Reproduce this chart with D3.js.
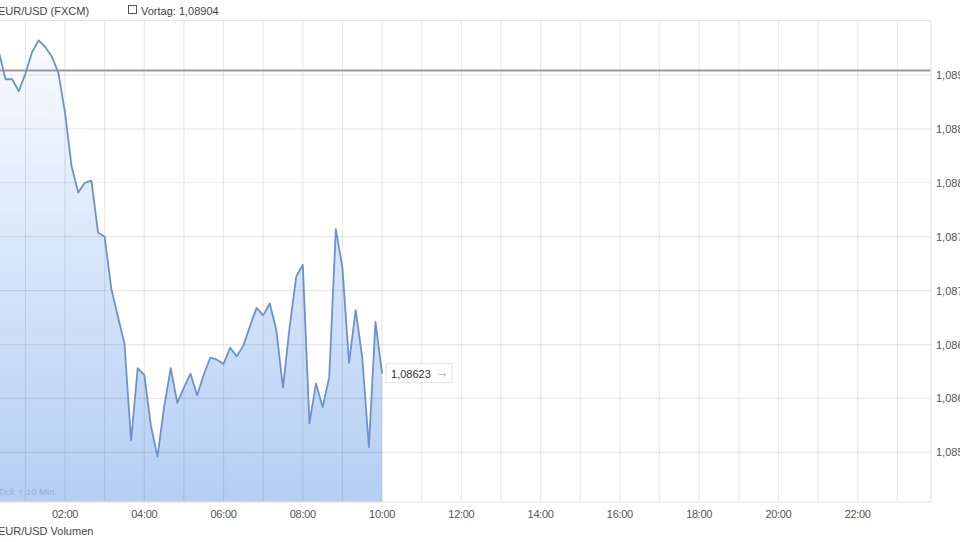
<!DOCTYPE html>
<html>
<head>
<meta charset="utf-8">
<script src="https://cdn.jsdelivr.net/npm/d3@7/dist/d3.min.js"></script>
<style>
  html, body { margin: 0; padding: 0; background: #fff; overflow: hidden; }
  svg { display: block; font-family: "Liberation Sans", Arial, sans-serif; }
</style>
</head>
<body>
<svg id="chart" width="960" height="542"></svg>
<script>
// ---- data ----
const seriesName = "EUR/USD (FXCM)";
const previousCloseLabel = "Vortag: 1,08904";
const previousClose = 1.08904;
const lastValue = 1.08623;
const volumeTitle = "EUR/USD Volumen";
const intervalNote = "Tick + 10 Min.";

const times = [
  "00:10","00:20","00:30","00:40","00:50","01:00","01:10","01:20","01:30","01:40",
  "01:50","02:00","02:10","02:20","02:30","02:40","02:50","03:00","03:10","03:20",
  "03:30","03:40","03:50","04:00","04:10","04:20","04:30","04:40","04:50","05:00",
  "05:10","05:20","05:30","05:40","05:50","06:00","06:10","06:20","06:30","06:40",
  "06:50","07:00","07:10","07:20","07:30","07:40","07:50","08:00","08:10","08:20",
  "08:30","08:40","08:50","09:00","09:10","09:20","09:30","09:40","09:50","10:00"
];
const prices = [
  1.08925,1.08921,1.08896,1.08896,1.08885,1.08901,1.08921,1.08932,1.08926,1.08917,
  1.08902,1.08865,1.08815,1.08791,1.08800,1.08802,1.08754,1.08750,1.08702,1.08676,
  1.08651,1.08561,1.08628,1.08622,1.08575,1.08546,1.08592,1.08628,1.08596,1.08610,
  1.08623,1.08603,1.08622,1.08638,1.08636,1.08632,1.08647,1.08639,1.08649,1.08667,
  1.08684,1.08677,1.08688,1.08663,1.08610,1.08666,1.08713,1.08724,1.08577,1.08614,
  1.08592,1.08620,1.08757,1.08721,1.08633,1.08682,1.08638,1.08555,1.08671,1.08623
];
const yTicks = [1.0855, 1.0860, 1.0865, 1.0870, 1.0875, 1.0880, 1.0885, 1.0890];
const xTickLabels = ["02:00","04:00","06:00","08:00","10:00","12:00","14:00","16:00","18:00","20:00","22:00"];
const xDomain = ["00:00", "23:51"];

// ---- helpers ----
const parseT = d3.timeParse("%H:%M");
const fmtDE = v => v.toFixed(4).replace(".", ",");
const fmtDE5 = v => v.toFixed(5).replace(".", ",");

const plotLeft = -14.25, plotRightEdge = 931, plotTop = 21, plotBottom = 502;
const x = d3.scaleTime()
  .domain(xDomain.map(parseT))
  .range([plotLeft, plotRightEdge]);
const y = d3.scaleLinear()
  .domain([1.08504, 1.0895])
  .range([plotBottom, plotTop]);

const data = times.map((t, i) => ({ t: parseT(t), v: prices[i] }));

const svg = d3.select("#chart");
const defs = svg.append("defs");
const grad = defs.append("linearGradient")
  .attr("id", "areaGrad")
  .attr("gradientUnits", "userSpaceOnUse")
  .attr("x1", 0).attr("y1", plotTop).attr("x2", 0).attr("y2", plotBottom);
grad.append("stop").attr("offset", "0%").attr("stop-color", "#fbfdff");
grad.append("stop").attr("offset", "100%").attr("stop-color", "#b4cef4");

defs.append("clipPath").attr("id", "plotClip")
  .append("rect").attr("x", 0).attr("y", plotTop).attr("width", plotRightEdge).attr("height", plotBottom - plotTop);

// area + line
const g = svg.append("g").attr("clip-path", "url(#plotClip)");
g.append("path").datum(data)
  .attr("fill", "url(#areaGrad)")
  .attr("d", d3.area().x(d => x(d.t)).y0(plotBottom).y1(d => y(d.v)));

// grid
const hours = d3.range(1, 24).map(h => parseT(String(h).padStart(2, "0") + ":00"));
g.selectAll("line.vg").data(hours).enter().append("line")
  .attr("x1", d => x(d)).attr("x2", d => x(d))
  .attr("y1", plotTop).attr("y2", plotBottom)
  .attr("stroke", "rgba(0,0,0,0.085)").attr("stroke-width", 1.2);
g.selectAll("line.hg").data(yTicks).enter().append("line")
  .attr("x1", 0).attr("x2", plotRightEdge)
  .attr("y1", d => y(d)).attr("y2", d => y(d))
  .attr("stroke", "rgba(0,0,0,0.085)").attr("stroke-width", 1.2);

// frame
svg.append("line").attr("x1", 0).attr("x2", plotRightEdge).attr("y1", plotTop - 0.5).attr("y2", plotTop - 0.5)
  .attr("stroke", "#e4e4e4").attr("stroke-width", 1.2);
svg.append("line").attr("x1", 0).attr("x2", plotRightEdge).attr("y1", plotBottom).attr("y2", plotBottom)
  .attr("stroke", "#e4e4e4").attr("stroke-width", 1.2);
svg.append("line").attr("x1", plotRightEdge).attr("x2", plotRightEdge).attr("y1", plotTop).attr("y2", plotBottom)
  .attr("stroke", "#e4e4e4").attr("stroke-width", 1.2);

// previous close line
g.append("line").attr("x1", 0).attr("x2", plotRightEdge)
  .attr("y1", y(previousClose)).attr("y2", y(previousClose))
  .attr("stroke", "#9a9a9a").attr("stroke-width", 2);

// price line
g.append("path").datum(data)
  .attr("fill", "none").attr("stroke", "#6d92cb").attr("stroke-width", 1.8)
  .attr("stroke-linejoin", "round")
  .attr("d", d3.line().x(d => x(d.t)).y(d => y(d.v)));

// y axis labels (right)
svg.selectAll("text.yl").data(yTicks).enter().append("text")
  .attr("x", 936).attr("y", d => y(d) + 4)
  .attr("font-size", 11).attr("fill", "#555")
  .text(fmtDE);

// x axis labels
svg.selectAll("text.xl").data(xTickLabels).enter().append("text")
  .attr("x", d => x(parseT(d))).attr("y", 518)
  .attr("text-anchor", "middle").attr("font-size", 11).attr("fill", "#555")
  .attr("letter-spacing", "-0.3")
  .text(d => d);

// interval note
svg.append("text").attr("x", -2).attr("y", 495)
  .attr("font-size", 9.5).attr("fill", "#9bb0cc").text(intervalNote);

// last value label
const lastT = data[data.length - 1];
const lx = x(lastT.t) + 4, ly = y(lastValue);
svg.append("rect").attr("x", lx).attr("y", ly - 10).attr("width", 66).attr("height", 19)
  .attr("fill", "#fff").attr("stroke", "#e2e2e2");
svg.append("text").attr("x", lx + 5).attr("y", ly + 4)
  .attr("font-size", 11).attr("fill", "#333").text(fmtDE5(lastValue));
svg.append("text").attr("x", lx + 52).attr("y", ly + 4)
  .attr("font-size", 10).attr("fill", "#b5b5b5")
  .attr("font-family", "DejaVu Sans").text("→");

// header
svg.append("text").attr("x", -2).attr("y", 15)
  .attr("font-size", 11).attr("fill", "#444").text(seriesName);
svg.append("rect").attr("x", 128.5).attr("y", 5.5).attr("width", 8).attr("height", 8)
  .attr("fill", "#fff").attr("stroke", "#555");
svg.append("text").attr("x", 141).attr("y", 15)
  .attr("font-size", 11).attr("fill", "#444").text(previousCloseLabel);

// volume title
svg.append("text").attr("x", -2).attr("y", 535)
  .attr("font-size", 11).attr("fill", "#444").text(volumeTitle);
</script>
</body>
</html>
